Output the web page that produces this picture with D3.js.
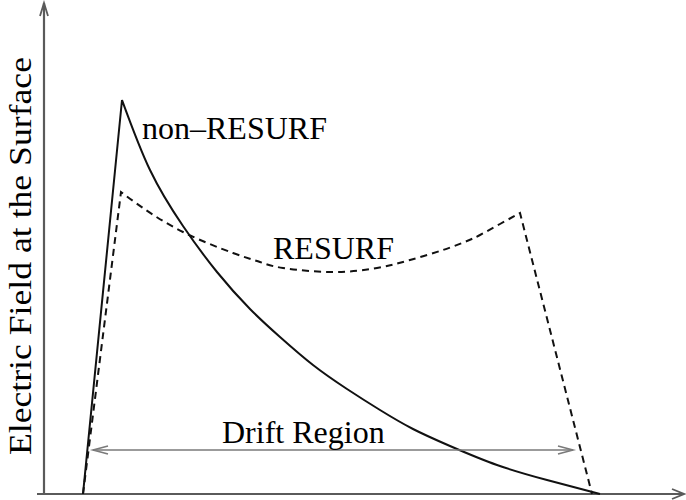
<!DOCTYPE html>
<html>
<head>
<meta charset="utf-8">
<script src="https://cdn.jsdelivr.net/npm/d3@7"></script>
<style>
  html, body { margin: 0; padding: 0; background: #fff; }
  svg text { font-family: "Liberation Serif", "DejaVu Serif", serif; fill: #000; }
</style>
</head>
<body>
<div id="chart"></div>
<script>
(() => {
  // position along the drift region (x) and field strength (y), in plot units
  const nonResurfX = [39, 78, 106, 139, 173, 206, 236, 269, 303, 336, 369, 406, 453, 503, 556];
  const nonResurfY = [0, 394, 324, 268, 222, 185, 157, 129, 105, 84, 65, 48, 29, 14, 0];

  const resurfX = [39, 77, 99, 139, 189, 216, 239, 289, 333, 366, 399, 423, 436, 456, 476, 548];
  const resurfY = [0, 302, 286, 262, 241, 232, 226, 222, 226, 234, 244, 253, 259, 270, 281, 0];

  const driftRange = [49, 529];
  const driftLevel = 44;

  const yLabel = 'Electric Field at the Surface';
  const curveLabels = ['non\u2013RESURF', 'RESURF'];
  const driftLabel = 'Drift Region';

  const width = 686, height = 500;

  const x = d3.scaleLinear().domain([0, 640]).range([44, 684]);
  const y = d3.scaleLinear().domain([0, 490]).range([494, 4]);

  const svg = d3.select('#chart').append('svg')
      .attr('width', width)
      .attr('height', height);

  const toPts = (xs, ys) => xs.map((v, i) => [x(v), y(ys[i])]);

  // 坐标轴
  const axisColor = '#5a5a5a';
  svg.append('line')
      .attr('x1', x(-7)).attr('y1', y(0))
      .attr('x2', x(640)).attr('y2', y(0))
      .attr('stroke', axisColor).attr('stroke-width', 2.2);
  svg.append('path')
      .attr('d', `M${x(628)},${y(5)} L${x(640)},${y(0)} L${x(628)},${y(-5)}`)
      .attr('fill', 'none').attr('stroke', axisColor).attr('stroke-width', 1.8);

  svg.append('line')
      .attr('x1', x(0)).attr('y1', y(0))
      .attr('x2', x(0)).attr('y2', y(491))
      .attr('stroke', axisColor).attr('stroke-width', 2.2);
  svg.append('path')
      .attr('d', `M${x(-4)},${y(478)} L${x(0)},${y(491)} L${x(4)},${y(478)}`)
      .attr('fill', 'none').attr('stroke', axisColor).attr('stroke-width', 1.8);

  // non-RESURF: straight rise then smooth decay
  const nr = toPts(nonResurfX, nonResurfY);
  const smooth = d3.line().curve(d3.curveNatural);
  const nrPath = `M${nr[0][0]},${nr[0][1]}` + smooth(nr.slice(1)).replace(/^M/, 'L');
  svg.append('path')
      .attr('d', nrPath)
      .attr('fill', 'none')
      .attr('stroke', '#111')
      .attr('stroke-width', 2);

  // RESURF: straight rise, smooth middle, straight fall
  const rs = toPts(resurfX, resurfY);
  const last = rs[rs.length - 1];
  const rsPath = `M${rs[0][0]},${rs[0][1]}` +
      smooth(rs.slice(1, rs.length - 1)).replace(/^M/, 'L') +
      `L${last[0]},${last[1]}`;
  svg.append('path')
      .attr('d', rsPath)
      .attr('fill', 'none')
      .attr('stroke', '#111')
      .attr('stroke-width', 2)
      .attr('stroke-dasharray', '7,5');

  // Drift Region arrow
  const driftColor = '#7a7a7a';
  svg.append('line')
      .attr('x1', x(driftRange[0])).attr('y1', y(driftLevel))
      .attr('x2', x(driftRange[1])).attr('y2', y(driftLevel))
      .attr('stroke', driftColor).attr('stroke-width', 1.6);
  svg.append('path')
      .attr('d', `M${x(driftRange[0] + 15)},${y(driftLevel + 4)} L${x(driftRange[0])},${y(driftLevel)} L${x(driftRange[0] + 15)},${y(driftLevel - 4)}`)
      .attr('fill', 'none').attr('stroke', driftColor).attr('stroke-width', 1.6);
  svg.append('path')
      .attr('d', `M${x(driftRange[1] - 15)},${y(driftLevel + 4)} L${x(driftRange[1])},${y(driftLevel)} L${x(driftRange[1] - 15)},${y(driftLevel - 4)}`)
      .attr('fill', 'none').attr('stroke', driftColor).attr('stroke-width', 1.6);

  // 文字
  svg.append('text')
      .attr('x', 142).attr('y', 139)
      .attr('font-size', 32)
      .text(curveLabels[0]);
  svg.append('text')
      .attr('x', 273).attr('y', 259)
      .attr('font-size', 32)
      .text(curveLabels[1]);
  svg.append('text')
      .attr('x', 222).attr('y', 443)
      .attr('font-size', 32)
      .text(driftLabel);
  svg.append('text')
      .attr('transform', 'translate(31,256) rotate(-90)')
      .attr('text-anchor', 'middle')
      .attr('font-size', 32)
      .attr('textLength', 398)
      .attr('lengthAdjust', 'spacingAndGlyphs')
      .text(yLabel);
})();
</script>
</body>
</html>
